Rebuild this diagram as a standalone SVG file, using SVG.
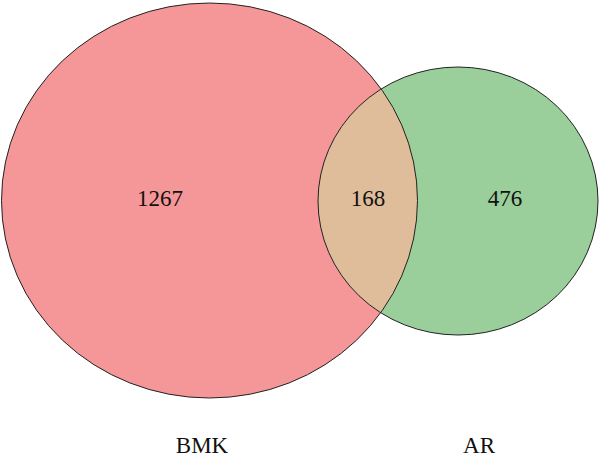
<svg xmlns="http://www.w3.org/2000/svg" width="600" height="463" viewBox="0 0 600 463">
<style>
.lbl{font-family:"Liberation Serif","DejaVu Serif",serif;font-size:23px;fill:#111;text-anchor:middle}
.edge{fill:none;stroke:#222;stroke-width:1}
</style>
<defs>
<clipPath id="clipL"><ellipse cx="209.5" cy="200.5" rx="208" ry="197.5"/></clipPath>
</defs>
<rect width="600" height="463" fill="#ffffff"/>
<g id="BMK">
<ellipse cx="209.5" cy="200.5" rx="208" ry="197.5" fill="#F59799"/>
</g>
<g id="AR">
<ellipse cx="458" cy="201" rx="140" ry="134" fill="#9ACE9B"/>
</g>
<g id="overlap">
<ellipse cx="458" cy="201" rx="140" ry="134" fill="#E0BD9A" clip-path="url(#clipL)"/>
</g>
<g id="outlines">
<ellipse class="edge" cx="209.5" cy="200.5" rx="208" ry="197.5"/>
<ellipse class="edge" cx="458" cy="201" rx="140" ry="134"/>
</g>
<g id="labels">
<text class="lbl" x="160" y="206">1267</text>
<text class="lbl" x="368" y="206">168</text>
<text class="lbl" x="505" y="206">476</text>
<text class="lbl" x="202" y="453">BMK</text>
<text class="lbl" x="479" y="453">AR</text>
</g>
</svg>
